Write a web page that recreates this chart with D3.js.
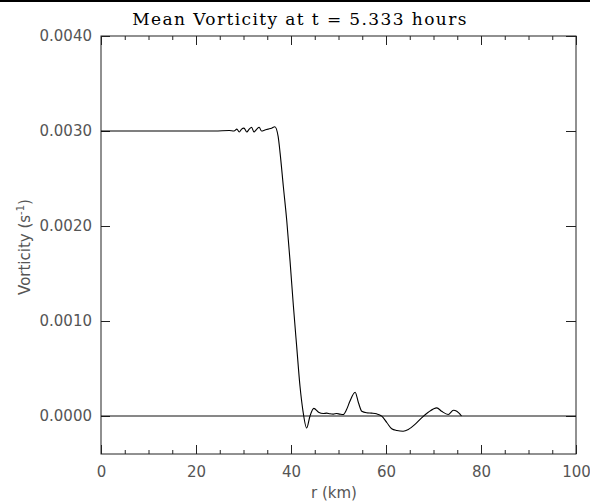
<!DOCTYPE html>
<html>
<head>
<meta charset="utf-8">
<script src="https://cdn.jsdelivr.net/npm/d3@7"></script>
<style>
  body { margin: 0; background: #fff; }
  svg { display: block; }
</style>
</head>
<body>
<div id="container"></div>
<script>
const w = 590
const h = 502
const margin = { left: 101, right: 14, top: 36, bottom: 48 }

// r (km) and mean vorticity (s^-1)
const radius = [0, 10, 20, 24, 27, 28, 28.6, 29.1, 29.6, 30.1, 30.7, 31.2, 31.7, 32.2, 32.8, 33.3, 33.8, 34.5, 35.2, 35.9, 36.6,
  37.3, 37.7, 38.4, 39.1, 39.8, 40.5, 41.2, 41.9, 42.5, 43.3, 44.0, 44.8, 45.8, 46.8, 47.5, 48.2, 48.9, 49.6, 50.3, 51.0,
  51.7, 52.4, 53.5, 54.2, 54.9, 55.9, 57.0, 58.0, 59.1, 60.2, 61.2, 62.3, 63.6, 64.7, 66.1, 67.5, 68.9, 70.7, 71.7, 73.1,
  74.2, 74.9, 75.9]
const vorticity = [0.003, 0.003, 0.003, 0.003, 0.003005, 0.003, 0.00302, 0.00299, 0.00302, 0.00303, 0.00299, 0.00302, 0.00304, 0.00299, 0.00302, 0.00304, 0.003, 0.00301, 0.00302, 0.00303, 0.003045,
  0.00294, 0.00277, 0.00241, 0.00206, 0.00163, 0.00116, 0.00073, 0.00031, 0.00006, -0.000126, 0.0, 0.00008, 0.00004, 0.000026, 0.00003, 0.000023, 0.00002, 0.000026, 0.00002, 0.000016,
  0.000068, 0.000155, 0.00025, 0.000139, 0.00005, 0.000034, 0.00003, 0.000023, -0.000002, -0.000071, -0.000134, -0.000152, -0.00016, -0.000142, -0.000089, -0.000019, 0.00004, 0.000086, 0.00005, 0.000016,
  0.00006, 0.00005, 0.0]

const xTicks = [0, 20, 40, 60, 80, 100]
const xMinorTicks = d3.range(0, 101, 5)
const yTicks = [0, 0.001, 0.002, 0.003, 0.004]

const data = radius.map((r, i) => ({ r: r, v: vorticity[i] }))

const svg = d3.select('#container')
              .append('svg')
              .attr('width', w)
              .attr('height', h)

// black rule along the top of the image
svg.append('rect')
   .attr('x', 0).attr('y', 0)
   .attr('width', w).attr('height', 2)
   .attr('fill', '#000')

const xScale = d3.scaleLinear()
                 .domain([0, 100])
                 .range([margin.left, w - margin.right])
const yScale = d3.scaleLinear()
                 .domain([-0.0004, 0.004])
                 .range([h - margin.bottom, margin.top])

const labelFont = 'DejaVu Sans, sans-serif'
const axisColor = '#222'
const labelColor = '#555'

function styleAxis(g) {
  g.select('.domain').remove()
  g.selectAll('line').attr('stroke', axisColor)
  g.selectAll('text')
   .attr('fill', labelColor)
   .style('font-family', labelFont)
   .style('font-size', '15px')
}

// Axes (ticks point inward)
svg.append('g')
   .attr('transform', 'translate(0, ' + (h - margin.bottom) + ')')
   .call(d3.axisBottom(xScale).tickValues(xMinorTicks).tickSize(-4).tickFormat(''))
   .call(styleAxis)
svg.append('g')
   .attr('id', 'x-axis')
   .attr('transform', 'translate(0, ' + (h - margin.bottom) + ')')
   .call(d3.axisBottom(xScale).tickValues(xTicks).tickSize(-9).tickPadding(12).tickFormat(d3.format('d')))
   .call(styleAxis)
svg.append('g')
   .attr('transform', 'translate(0, ' + margin.top + ')')
   .call(d3.axisTop(xScale).tickValues(xMinorTicks).tickSize(-4).tickFormat(''))
   .call(styleAxis)
svg.append('g')
   .attr('transform', 'translate(0, ' + margin.top + ')')
   .call(d3.axisTop(xScale).tickValues(xTicks).tickSize(-9).tickFormat(''))
   .call(styleAxis)
svg.append('g')
   .attr('id', 'y-axis')
   .attr('transform', 'translate(' + margin.left + ', 0)')
   .call(d3.axisLeft(yScale).tickValues(yTicks).tickSize(-9).tickPadding(9).tickFormat(d3.format('.4f')))
   .call(styleAxis)
svg.append('g')
   .attr('transform', 'translate(' + (w - margin.right) + ', 0)')
   .call(d3.axisRight(yScale).tickValues(yTicks).tickSize(-10).tickFormat(''))
   .call(styleAxis)

// Frame
svg.append('rect')
   .attr('x', margin.left)
   .attr('y', margin.top)
   .attr('width', w - margin.left - margin.right)
   .attr('height', h - margin.top - margin.bottom)
   .attr('fill', 'none')
   .attr('stroke', axisColor)
   .attr('stroke-width', 1)

// Zero line
svg.append('line')
   .attr('x1', xScale(0))
   .attr('x2', xScale(100))
   .attr('y1', yScale(0))
   .attr('y2', yScale(0))
   .attr('stroke', '#111')
   .attr('stroke-width', 1)

// Curve
const line = d3.line()
               .x(d => xScale(d.r))
               .y(d => yScale(d.v))
               .curve(d3.curveMonotoneX)
svg.append('path')
   .datum(data)
   .attr('d', line)
   .attr('fill', 'none')
   .attr('stroke', '#000')
   .attr('stroke-width', 1.1)

// Title and axis labels
svg.append('text')
   .attr('x', 300)
   .attr('y', 25)
   .attr('text-anchor', 'middle')
   .style('font-family', 'DejaVu Serif, serif')
   .style('font-size', '17px')
   .style('letter-spacing', '1.4px')
   .attr('fill', '#000')
   .text('Mean Vorticity at t = 5.333 hours')

svg.append('text')
   .attr('x', 334)
   .attr('y', 498)
   .attr('text-anchor', 'middle')
   .style('font-family', labelFont)
   .style('font-size', '15px')
   .attr('fill', labelColor)
   .text('r (km)')

const yLabel = svg.append('text')
   .attr('transform', 'translate(30, 247) rotate(-90)')
   .attr('text-anchor', 'middle')
   .style('font-family', labelFont)
   .style('font-size', '15px')
   .attr('fill', labelColor)
yLabel.append('tspan').text('Vorticity (s')
yLabel.append('tspan').attr('dy', -6).style('font-size', '10px').text('-1')
yLabel.append('tspan').attr('dy', 6).text(')')
</script>
</body>
</html>
